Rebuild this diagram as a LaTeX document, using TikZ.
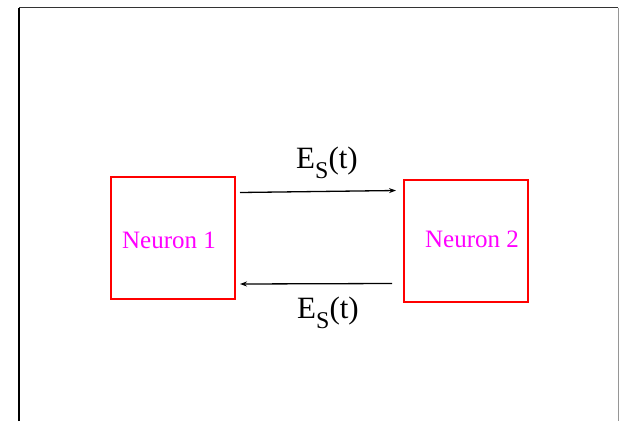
\documentclass[tikz,border=0pt]{standalone}
\usepackage{fontspec}
\setmainfont{Liberation Serif}
\usepackage{tikz}
\usetikzlibrary{arrows.meta,positioning}
\definecolor{boxred}{RGB}{255,0,0}
\definecolor{labmag}{RGB}{255,0,255}
\definecolor{framegray}{RGB}{150,150,150}
\newcommand{\esig}{E\raisebox{-10pt}{\fontsize{24}{24}\selectfont S}(t)}

\begin{document}
\begin{tikzpicture}[x=1pt, y=-1pt,
    neuronbox/.style={draw=boxred, line width=1.3pt, minimum width=124pt, minimum height=122pt, inner sep=0pt},
    neuronlab/.style={labmag, font=\rmfamily\fontsize{25}{30}\selectfont},
    siglab/.style={font=\rmfamily\fontsize{31}{36}\selectfont},
    sigarrow/.style={-{Stealth[length=7pt, width=5pt]}, line width=1.3pt}]
    \useasboundingbox (0,0) rectangle (619,421);
    % slide frame
    \draw[line width=1.2pt] (19,421) -- (19,7.5);
    \draw[black!80, line width=1pt] (19,7.5) -- (618,7.5);
    \draw[framegray, line width=1pt] (618,7.5) -- (618,421);
    % neurons
    \node[neuronbox] (n1) at (173,238) {};
    \node[neuronbox] (n2) at (466,241) {};
    \node[neuronlab] (l1) at (169,240) {Neuron 1};
    \node[neuronlab] (l2) at (472,239) {Neuron 2};
    % synaptic signals
    \coordinate (t1) at (240,192.5);
    \coordinate (t2) at (396,190.5);
    \coordinate (b2) at (392,283.5);
    \coordinate (b1) at (240,284);
    \draw[sigarrow] (t1) -- (t2);
    \draw[sigarrow] (b2) -- (b1);
    \node[siglab] (e1) at (327,163) {\esig};
    \node[siglab] (e2) at (328,313) {\esig};
\end{tikzpicture}
\end{document}
